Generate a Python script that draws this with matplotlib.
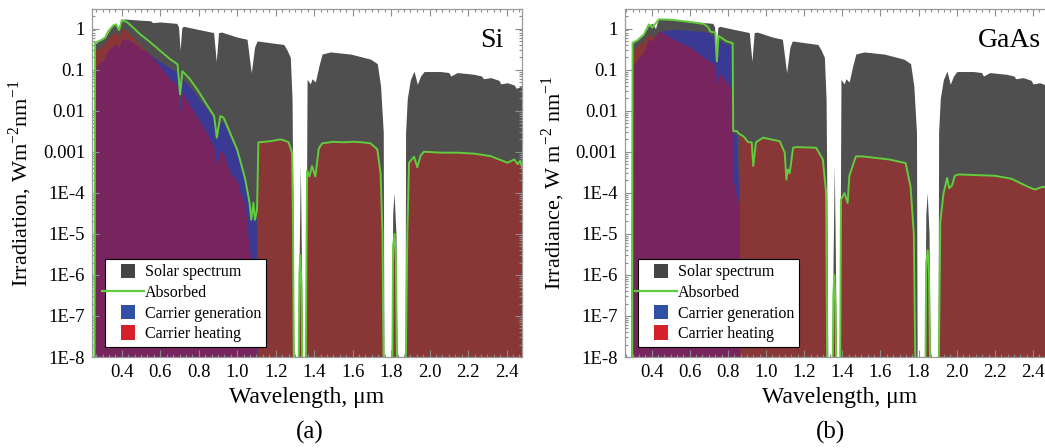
import numpy as np
import matplotlib
matplotlib.use('Agg')
import matplotlib.pyplot as plt
from matplotlib.lines import Line2D
from matplotlib.patches import Patch, Rectangle
from matplotlib.legend_handler import HandlerBase
from matplotlib.ticker import FixedLocator, FixedFormatter, LogLocator, AutoMinorLocator, NullFormatter

plt.rcParams['font.family'] = ['Liberation Serif', 'DejaVu Serif']
plt.rcParams['mathtext.fontset'] = 'custom'
plt.rcParams['mathtext.rm'] = 'Liberation Serif'

OFF = 1e-9  # below the plotted range

# AM1.5 solar spectrum, W m^-2 nm^-1 (same curve in both panels, panel (b) wavelengths listed separately)
solar_wl = [0.255, 0.26, 0.29, 0.32, 0.35, 0.37, 0.385, 0.40, 0.426, 0.50, 0.55, 0.56, 0.60,
            0.686, 0.695, 0.703, 0.712, 0.721, 0.80, 0.877, 0.891, 0.903, 0.92, 1.0, 1.051,
            1.073, 1.09, 1.103, 1.242, 1.259, 1.276, 1.285, 1.29, 1.295, 1.315, 1.322, 1.328,
            1.334, 1.34, 1.355, 1.363, 1.38, 1.389, 1.406, 1.424, 1.441, 1.485, 1.589, 1.693,
            1.728, 1.745, 1.759, 1.763, 1.80, 1.808, 1.815, 1.825, 1.832, 1.872, 1.875, 1.884,
            1.90, 1.919, 1.936, 1.953, 1.971, 2.057, 2.10, 2.11, 2.144, 2.231, 2.27, 2.28,
            2.318, 2.36, 2.37, 2.405, 2.44, 2.45, 2.49]
solar_b_wl = [0.29, 0.295, 0.325, 0.355, 0.385, 0.405, 0.42, 0.435, 0.461, 0.535, 0.585, 0.595, 0.635,
              0.721, 0.73, 0.738, 0.747, 0.756, 0.835, 0.912, 0.926, 0.938, 0.955, 1.035, 1.086,
              1.108, 1.125, 1.138, 1.272, 1.289, 1.306, 1.315, 1.32, 1.325, 1.345, 1.352, 1.358,
              1.364, 1.37, 1.385, 1.393, 1.41, 1.419, 1.436, 1.454, 1.471, 1.515, 1.619, 1.723,
              1.758, 1.775, 1.789, 1.793, 1.83, 1.838, 1.845, 1.855, 1.862, 1.902, 1.905, 1.914,
              1.93, 1.949, 1.966, 1.983, 2.001, 2.087, 2.13, 2.14, 2.174, 2.261, 2.30, 2.31,
              2.348, 2.39, 2.40, 2.435, 2.47, 2.48, 2.52]
solar_irr = [OFF, 0.42, 0.55, 0.68, 1.2, 1.35, 1.0, 1.7, 1.7, 1.6, 1.55, 1.4, 1.45,
             1.34, 1.1, 0.3, 1.05, 1.14, 0.95, 0.8, 0.16, 0.8, 0.82, 0.62, 0.55,
             0.084, 0.35, 0.5, 0.41, 0.3, 0.2, 0.019, 2e-5, OFF, OFF, 3e-6, 5e-4,
             2e-6, OFF, OFF, 0.058, 0.045, 0.06, 0.05, 0.12, 0.24, 0.27, 0.24, 0.18,
             0.14, 0.04, 0.003, OFF, OFF, 3e-5, 1e-4, 1e-5, OFF, OFF, 0.003, 0.02,
             0.057, 0.092, 0.044, 0.07, 0.09, 0.09, 0.085, 0.07, 0.085, 0.077, 0.07, 0.06,
             0.064, 0.055, 0.045, 0.048, 0.042, 0.035, 0.042]

# Si: absorbed spectrum
si_abs_wl = [0.258, 0.261, 0.295, 0.313, 0.33, 0.356, 0.37, 0.386, 0.40, 0.426, 0.46, 0.495,
             0.54, 0.582, 0.651, 0.69, 0.703, 0.715, 0.755, 0.80, 0.842, 0.88, 0.894, 0.912,
             0.929, 0.964, 0.999, 1.016, 1.042, 1.064, 1.073, 1.084, 1.092, 1.103, 1.11, 1.17,
             1.224, 1.242, 1.267, 1.285, 1.29, 1.295, 1.318, 1.323, 1.328, 1.334, 1.34, 1.355,
             1.363, 1.375, 1.389, 1.406, 1.424, 1.441, 1.50, 1.55, 1.60, 1.65, 1.693, 1.728,
             1.745, 1.755, 1.762, 1.805, 1.81, 1.818, 1.825, 1.832, 1.874, 1.884, 1.893, 1.919,
             1.936, 1.953, 1.97, 2.06, 2.144, 2.231, 2.318, 2.405, 2.44, 2.457, 2.47, 2.483]
si_abs = [OFF, 0.45, 0.53, 0.60, 0.87, 1.2, 1.27, 0.92, 1.6, 1.45, 1.05, 0.73,
          0.5, 0.34, 0.18, 0.135, 0.025, 0.092, 0.058, 0.029, 0.014, 0.0074, 0.0022, 0.0074,
          0.0068, 0.0028, 0.00115, 6e-4, 2.1e-4, 5.7e-5, 2.2e-5, 5.7e-5, 2.2e-5, 3.9e-5, 0.0017, 0.0018,
          0.002, 0.0019, 0.0017, 0.00095, 2e-5, OFF, OFF, 1e-6, 3e-6, 5e-7, OFF, OFF,
          3.5e-4, 2.5e-4, 4.5e-4, 2.5e-4, 1.2e-3, 1.6e-3, 1.75e-3, 1.7e-3, 1.75e-3, 1.7e-3, 1.6e-3, 1.15e-3,
          3e-4, 1e-5, OFF, OFF, 5e-6, 1e-5, 2e-6, OFF, OFF, 1e-5, 5.4e-4, 7.6e-4,
          4.2e-4, 8e-4, 1e-3, 9.5e-4, 9.5e-4, 9e-4, 7.8e-4, 5.4e-4, 6.5e-4, 5e-4, 6e-4, 4e-4]

# Si: above-gap part split into heating and generation
si_wl = [0.259, 0.262, 0.287, 0.306, 0.33, 0.356, 0.37, 0.386, 0.40, 0.426, 0.46, 0.495, 0.54,
         0.582, 0.651, 0.69, 0.703, 0.715, 0.755, 0.80, 0.842, 0.88, 0.894, 0.912, 0.929, 0.964,
         0.999, 1.016, 1.042, 1.055, 1.064, 1.073, 1.084, 1.092, 1.096, 1.099, 1.101]
si_heat = [OFF, 0.3, 0.35, 0.4, 0.6, 0.75, 0.85, 0.6, 1.0, 0.88, 0.62, 0.4, 0.25,
           0.15, 0.06, 0.04, 0.009, 0.03, 0.013, 0.006, 0.0029, 0.0012, 0.00045, 0.0011, 0.0009, 3e-4,
           2e-4, 1e-4, 5e-5, 1e-5, 4e-6, 2.5e-6, 1.5e-6, 1e-6, 6e-7, OFF, OFF]
si_gen = [OFF, 0.1, 0.15, 0.17, 0.3, 0.38, 0.42, 0.32, 0.55, 0.55, 0.45, 0.33, 0.25,
          0.18, 0.11, 0.085, 0.015, 0.06, 0.038, 0.02, 0.011, 0.006, 0.0018, 0.0055, 0.0052, 0.0022,
          0.00095, 5e-4, 1.7e-4, 9e-5, 5e-5, 2e-5, 5e-5, 2e-5, 2.5e-5, 2.5e-5, OFF]
si_edge = 1.103

# GaAs: absorbed spectrum
gaas_abs_wl = [0.298, 0.30, 0.326, 0.36, 0.386, 0.404, 0.438, 0.499, 0.603, 0.673, 0.695, 0.708,
               0.734, 0.742, 0.751, 0.794, 0.82, 0.825, 0.828, 0.846, 0.86, 0.881, 0.907, 0.925,
               0.933, 0.947, 0.985, 1.072, 1.098, 1.107, 1.115, 1.124, 1.142, 1.159, 1.263, 1.298,
               1.315, 1.322, 1.348, 1.353, 1.358, 1.364, 1.37, 1.388, 1.393, 1.411, 1.428, 1.437,
               1.471, 1.506, 1.645, 1.732, 1.758, 1.775, 1.785, 1.835, 1.84, 1.848, 1.855, 1.862,
               1.904, 1.914, 1.931, 1.95, 1.96, 1.975, 1.99, 2.01, 2.20, 2.287, 2.374, 2.41,
               2.45, 2.513]
gaas_abs = [OFF, 0.45, 0.52, 0.73, 1.27, 1.06, 1.68, 1.65, 1.45, 1.3, 1.1, 0.85,
            0.8, 0.16, 0.66, 0.49, 0.45, 0.44, 0.0032, 0.0032, 0.0027, 0.0024, 0.0017, 0.0017,
            4.5e-4, 0.0017, 0.0022, 0.0018, 9.6e-4, 2.1e-4, 3.7e-4, 3e-4, 1.25e-3, 1.3e-3, 1.25e-3, 6.5e-4,
            1e-4, OFF, OFF, 3e-7, 1e-6, 2e-7, OFF, OFF, 6.8e-5, 9.8e-5, 5.6e-5, 2.6e-4,
            7.7e-4, 7.7e-4, 6.5e-4, 5.3e-4, 1.4e-4, 1e-5, OFF, OFF, 2e-6, 4e-6, 1e-6, OFF,
            OFF, 2e-5, 9.8e-5, 2.3e-4, 1.3e-4, 1.5e-4, 2.6e-4, 2.8e-4, 2.6e-4, 2.2e-4, 1.4e-4, 1.2e-4,
            1.4e-4, 1.2e-4]

gaas_wl = [0.30, 0.302, 0.326, 0.36, 0.386, 0.404, 0.438, 0.47, 0.499, 0.55, 0.603, 0.673, 0.695,
           0.708, 0.734, 0.742, 0.751, 0.768, 0.794, 0.82, 0.825, 0.828, 0.846, 0.855, 0.86, 0.862]
gaas_heat = [OFF, 0.28, 0.38, 0.5, 0.75, 0.6, 0.85, 0.75, 0.6, 0.46, 0.35, 0.2, 0.17,
             0.16, 0.12, 0.028, 0.09, 0.07, 0.05, 0.033, 0.03, 2e-4, 8e-5, 6e-5, 5e-5, OFF]
gaas_gen = [OFF, 0.12, 0.18, 0.28, 0.55, 0.5, 0.85, 0.9, 0.95, 0.95, 0.9, 0.85, 0.8,
            0.7, 0.65, 0.13, 0.55, 0.47, 0.42, 0.4, 0.4, 0.003, 0.0025, 2e-4, 5e-5, OFF]
gaas_edge = 0.86

ytick_vals = [1e-8, 1e-7, 1e-6, 1e-5, 1e-4, 1e-3, 1e-2, 1e-1, 1]
ytick_labels = ['1E-8', '1E-7', '1E-6', '1E-5', '1E-4', '0.001', '0.01', '0.1', '1']
xtick_vals = [0.4, 0.6, 0.8, 1.0, 1.2, 1.4, 1.6, 1.8, 2.0, 2.2, 2.4]

GRAY = '#4f4f4f'
RED = '#893636'
BLUE = '#3a3a94'
PURPLE = '#78245f'
GREEN = '#62cc3e'


class SquareHandler(HandlerBase):
    def create_artists(self, legend, orig, xdescent, ydescent, width, height, fontsize, trans):
        side = 0.9 * fontsize
        r = Rectangle((width - side - xdescent, -ydescent + (height - side) / 2), side, side,
                      facecolor=orig.get_facecolor(), edgecolor='none', transform=trans)
        return [r]


class LongLineHandler(HandlerBase):
    def create_artists(self, legend, orig, xdescent, ydescent, width, height, fontsize, trans):
        y = -ydescent + height / 2
        ln = Line2D([-xdescent - 0.45 * fontsize, width - xdescent + 0.55 * fontsize], [y, y],
                    color=orig.get_color(), lw=orig.get_linewidth(), transform=trans)
        return [ln]


def draw_panel(ax, sol_wl, abs_wl, abs_y, wl, heat, gen, edge, xlim, name, name_x, ylabel):
    floor = 1e-10
    ax.fill_between(sol_wl, floor, solar_irr, color=GRAY, lw=0)
    aw = np.array(abs_wl)
    ay = np.array(abs_y)
    below_gap = aw >= edge
    ax.fill_between(aw[below_gap], floor, ay[below_gap], color=RED, lw=0)
    h = np.array(heat)
    g = np.array(gen)
    ax.fill_between(wl, floor, h, color=RED, lw=0)
    ax.fill_between(wl, floor, g, color=BLUE, lw=0)
    ax.fill_between(wl, floor, np.minimum(h, g), color=PURPLE, lw=0)
    ax.plot(abs_wl, abs_y, color=GREEN, lw=1.4)

    ax.set_yscale('log')
    ax.set_ylim(1e-8, 3.0)
    ax.set_xlim(*xlim)
    ax.yaxis.set_major_locator(FixedLocator(ytick_vals))
    ax.yaxis.set_major_formatter(FixedFormatter(ytick_labels))
    ax.yaxis.set_minor_locator(LogLocator(base=10, subs=np.arange(2, 10), numticks=20))
    ax.yaxis.set_minor_formatter(NullFormatter())
    ax.set_xticks(xtick_vals)
    ax.set_xticklabels(['%.1f' % v for v in xtick_vals])
    ax.xaxis.set_minor_locator(AutoMinorLocator(6))
    ax.tick_params(which='both', direction='in', top=True, right=True, color='#8c8c8c',
                   labelsize=13.5, width=0.8)
    ax.tick_params(which='major', length=5, pad=5)
    ax.tick_params(which='minor', length=2.5)
    for sp in ax.spines.values():
        sp.set_color('#9a9a9a')
        sp.set_linewidth(0.9)
    ax.set_xlabel('Wavelength, \u03bcm', fontsize=17, labelpad=4)
    ax.set_ylabel(ylabel, fontsize=16, labelpad=6)

    handles = [Patch(facecolor='#444444'), Line2D([], [], color=GREEN, lw=1.6),
               Patch(facecolor='#3050a6'), Patch(facecolor='#d6202b')]
    labels = ['Solar spectrum', 'Absorbed', 'Carrier generation', 'Carrier heating']
    leg = ax.legend(handles, labels, loc='lower left', bbox_to_anchor=(0.03, 0.029),
                    borderaxespad=0, fontsize=11.5, frameon=True, fancybox=False,
                    framealpha=1, edgecolor='black', borderpad=0.3, labelspacing=0.25,
                    handlelength=1.6, handleheight=1.0, handletextpad=0.6,
                    handler_map={Patch: SquareHandler(), Line2D: LongLineHandler()})
    leg.get_frame().set_linewidth(0.8)
    ax.text(name_x, 0.91, name, transform=ax.transAxes, ha='right', va='center', fontsize=20)
    return ax


fig = plt.figure(figsize=(10.45, 4.48), dpi=100)
ax1 = fig.add_axes([0.088, 0.2031, 0.4115, 0.7768])
ax2 = fig.add_axes([0.598, 0.2031, 0.4115, 0.7768])

draw_panel(ax1, solar_wl, si_abs_wl, si_abs, si_wl, si_heat, si_gen, si_edge, (0.245, 2.48),
           'Si', 0.958, 'Irradiation, Wm$^{-2}$nm$^{-1}$')
draw_panel(ax2, solar_b_wl, gaas_abs_wl, gaas_abs, gaas_wl, gaas_heat, gaas_gen, gaas_edge,
           (0.26, 2.515), 'GaAs', 0.968, 'Irradiance, W m$^{-2}$ nm$^{-1}$')

fig.text(0.296, 0.035, '(a)', ha='center', va='center', fontsize=18)
fig.text(0.795, 0.035, '(b)', ha='center', va='center', fontsize=18)

fig.savefig('out.png', dpi=100)
